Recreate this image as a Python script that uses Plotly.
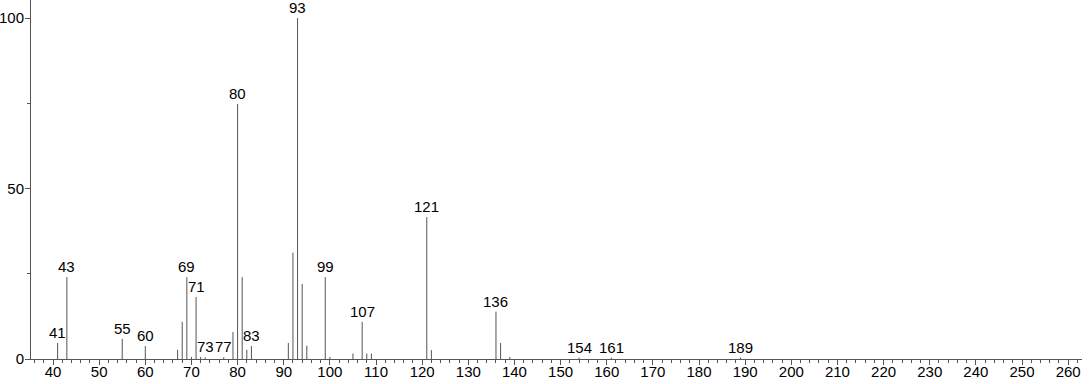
import plotly.graph_objects as go

mz = [41, 43, 55, 60, 67, 68, 69, 70, 71, 72, 73, 77, 79, 80, 81, 82, 83,
      91, 92, 93, 94, 95, 99, 100, 105, 107, 108, 109, 121, 122, 136, 137, 139,
      154, 161, 189]
intensity = [4.7, 24, 5.9, 3.8, 2.7, 10.9, 24, 0.6, 18.2, 0.6, 0.5, 0.5, 7.9, 74.8, 24, 2.7, 3.8,
             4.7, 31.2, 100, 22, 3.9, 24, 0.6, 1.6, 10.9, 1.6, 1.6, 41.6, 2.6, 13.9, 4.7, 0.6,
             0.4, 0.4, 0.4]
labeled = [41, 43, 55, 60, 69, 71, 73, 77, 80, 83, 93, 99, 107, 121, 136, 154, 161, 189]

xs, ys = [], []
for m, h in zip(mz, intensity):
    xs += [m, m, None]
    ys += [0, h, None]

fig = go.Figure()
fig.add_trace(go.Scatter(x=xs, y=ys, mode="lines",
                         line=dict(color="#555555", width=1), hoverinfo="skip",
                         showlegend=False))

height = dict(zip(mz, intensity))
for m in labeled:
    fig.add_annotation(x=m, y=height[m], text=str(m), showarrow=False,
                       yanchor="bottom", yshift=0,
                       font=dict(family="Liberation Sans, Arial, sans-serif", size=15, color="#000"))

axis_font = dict(family="Liberation Sans, Arial, sans-serif", size=15, color="#000")
fig.update_layout(
    width=1092, height=384,
    margin=dict(l=31, r=10, t=0, b=25, autoexpand=False),
    plot_bgcolor="white", paper_bgcolor="white",
    xaxis=dict(range=[35.23, 263.0], dtick=10, tick0=0, ticks="outside", ticklen=5,
               tickcolor="#555", showline=True, linecolor="#555", linewidth=1,
               showgrid=False, zeroline=False, tickfont=axis_font, automargin=False,
               ticklabelstandoff=-6,
               minor=dict(dtick=2, ticks="outside", ticklen=3, tickcolor="#555")),
    yaxis=dict(range=[0, 105.28], tickvals=[0, 50, 100], ticks="outside", ticklen=5,
               tickcolor="#555", showline=True, linecolor="#555", linewidth=1,
               showgrid=False, zeroline=False, tickfont=axis_font, automargin=False,
               ticklabelstandoff=-2,
               minor=dict(tickvals=[25, 75], ticks="outside", ticklen=3, tickcolor="#555")),
)
fig.write_html("out.html")
